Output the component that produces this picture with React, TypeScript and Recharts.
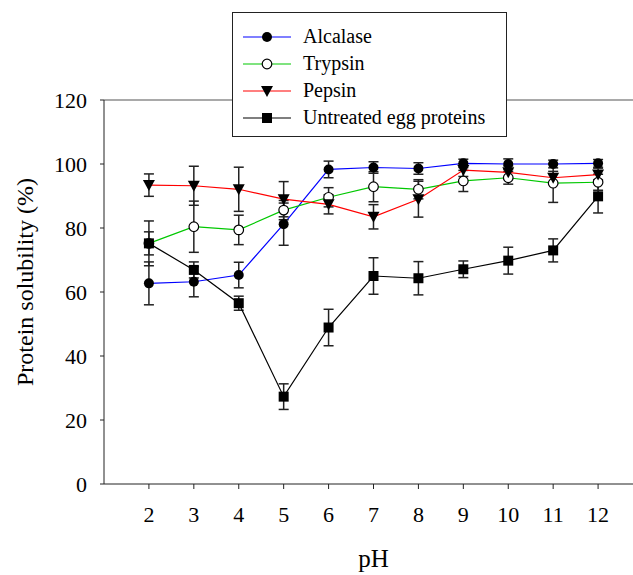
import React from 'react';
import { LineChart, Line, XAxis, YAxis, ErrorBar, ReferenceLine } from 'recharts';

const phValues = [2, 3, 4, 5, 6, 7, 8, 9, 10, 11, 12];

const alcalase = [62.7, 63.2, 65.3, 81.2, 98.3, 98.9, 98.6, 100.2, 100, 100, 100.2];
const alcalaseErr = [6.7, 4.7, 4, 6.6, 2.6, 1.8, 1.8, 1.3, 1.6, 1.2, 1.2];
const trypsin = [75.2, 80.4, 79.4, 85.6, 89.6, 92.9, 92.1, 94.7, 95.7, 94, 94.3];
const trypsinErr = [3.6, 8, 4.6, 3, 3, 4.7, 3, 3.3, 2, 6, 2.5];
const pepsin = [93.4, 93.2, 92.1, 89, 87.4, 83.5, 89, 98.1, 97.4, 95.7, 96.7];
const pepsinErr = [3.5, 6.1, 6.9, 5.5, 3, 3.8, 5.6, 2, 2, 2, 2];
const untreated = [75.2, 66.9, 56.5, 27.3, 48.9, 65, 64.3, 67.1, 69.8, 73, 89.9];
const untreatedErr = [7, 2.5, 2.2, 4, 5.7, 5.7, 5.2, 2.6, 4.2, 3.6, 5.2];

const xTicks = [2, 3, 4, 5, 6, 7, 8, 9, 10, 11, 12];
const yTicks = [0, 20, 40, 60, 80, 100, 120];

const FONT = "'Liberation Serif', 'Times New Roman', serif";

type MarkerKind = 'circle' | 'open' | 'triangle' | 'square';

const Marker = ({ kind, cx, cy }: { kind: MarkerKind; cx: number; cy: number }) => {
  if (kind === 'circle') return <circle cx={cx} cy={cy} r={5} fill="#000" />;
  if (kind === 'open') return <circle cx={cx} cy={cy} r={4.8} fill="#fff" stroke="#000" strokeWidth={1.2} />;
  if (kind === 'triangle')
    return <polygon points={`${cx - 6},${cy - 5} ${cx + 6},${cy - 5} ${cx},${cy + 6}`} fill="#000" />;
  return <rect x={cx - 5} y={cy - 5} width={10} height={10} fill="#000" />;
};

const series = [
  { key: 'alcalase', err: 'alcalaseErr', name: 'Alcalase', color: '#0000ff', marker: 'circle' as MarkerKind },
  { key: 'trypsin', err: 'trypsinErr', name: 'Trypsin', color: '#00c800', marker: 'open' as MarkerKind },
  { key: 'pepsin', err: 'pepsinErr', name: 'Pepsin', color: '#ff0000', marker: 'triangle' as MarkerKind },
  { key: 'untreated', err: 'untreatedErr', name: 'Untreated egg proteins', color: '#000000', marker: 'square' as MarkerKind },
];

const data = phValues.map((ph, i) => ({
  ph,
  alcalase: alcalase[i],
  alcalaseErr: alcalaseErr[i],
  trypsin: trypsin[i],
  trypsinErr: trypsinErr[i],
  pepsin: pepsin[i],
  pepsinErr: pepsinErr[i],
  untreated: untreated[i],
  untreatedErr: untreatedErr[i],
}));

const YTitle = (props: any) => {
  const vb = props.viewBox || { x: 0, y: 100, width: 104, height: 384 };
  const x = vb.x + 33;
  const y = vb.y + vb.height / 2 - 10;
  return (
    <text x={x} y={y} transform={`rotate(-90 ${x} ${y})`} textAnchor="middle" fontSize={24} style={{ fontFamily: FONT }} fill="#000">
      Protein solubility (%)
    </text>
  );
};

const XTitle = (props: any) => {
  const vb = props.viewBox || { x: 104, y: 484, width: 539, height: 91 };
  return (
    <text x={vb.x + vb.width / 2} y={vb.y + 83} textAnchor="middle" fontSize={25} style={{ fontFamily: FONT }} fill="#000">
      pH
    </text>
  );
};

const LegendBox = () => (
  <div
    style={{
      position: 'absolute',
      left: 232,
      top: 12,
      width: 273,
      height: 123,
      border: '1.5px solid #222',
      background: '#fff',
      fontFamily: FONT,
      fontSize: 20,
    }}
  >
    {series.map((s, i) => (
      <div key={s.key} style={{ position: 'absolute', left: 10, top: 10 + i * 27, height: 27, display: 'flex', alignItems: 'center' }}>
        <svg width={48} height={16} style={{ marginRight: 12 }}>
          <line x1={0} y1={8} x2={48} y2={8} stroke={s.color} strokeWidth={1.2} />
          <Marker kind={s.marker} cx={24} cy={8} />
        </svg>
        <span style={{ lineHeight: '27px', fontFamily: FONT }}>{s.name}</span>
      </div>
    ))}
  </div>
);

const tickStyle = { fill: '#000', fontSize: 22, fontFamily: FONT, style: { fontFamily: FONT } };

export default function App() {
  return (
    <div
      style={{
        position: 'fixed',
        left: 0,
        top: 0,
        width: 633,
        height: 575,
        overflow: 'hidden',
        background: '#fff',
        fontFamily: FONT,
      }}
    >
      <LineChart width={660} height={575} data={data} margin={{ top: 100, right: 17, bottom: 0, left: 0 }} style={{ fontFamily: FONT }}>
        <XAxis
          dataKey="ph"
          type="number"
          domain={[1, 13]}
          ticks={xTicks}
          stroke="#222"
          tickSize={5}
          tickMargin={17}
          height={91}
          tick={tickStyle}
          label={<XTitle />}
        />
        <YAxis
          type="number"
          domain={[0, 120]}
          ticks={yTicks}
          stroke="#222"
          width={104}
          tickSize={4}
          tickMargin={13}
          tick={tickStyle}
          label={<YTitle />}
        />
        <ReferenceLine y={120} stroke="#555" strokeWidth={1.2} />
        {series.map((s) => (
          <Line
            key={s.key}
            dataKey={s.key}
            name={s.name}
            stroke={s.color}
            strokeWidth={1.2}
            isAnimationActive={false}
            activeDot={false}
            dot={(p: any) => <Marker key={`${s.key}-${p.index}`} kind={s.marker} cx={p.cx} cy={p.cy} />}
          >
            <ErrorBar dataKey={s.err} width={5} stroke="#222" strokeWidth={1.5} direction="y" />
          </Line>
        ))}
      </LineChart>
      <LegendBox />
    </div>
  );
}
